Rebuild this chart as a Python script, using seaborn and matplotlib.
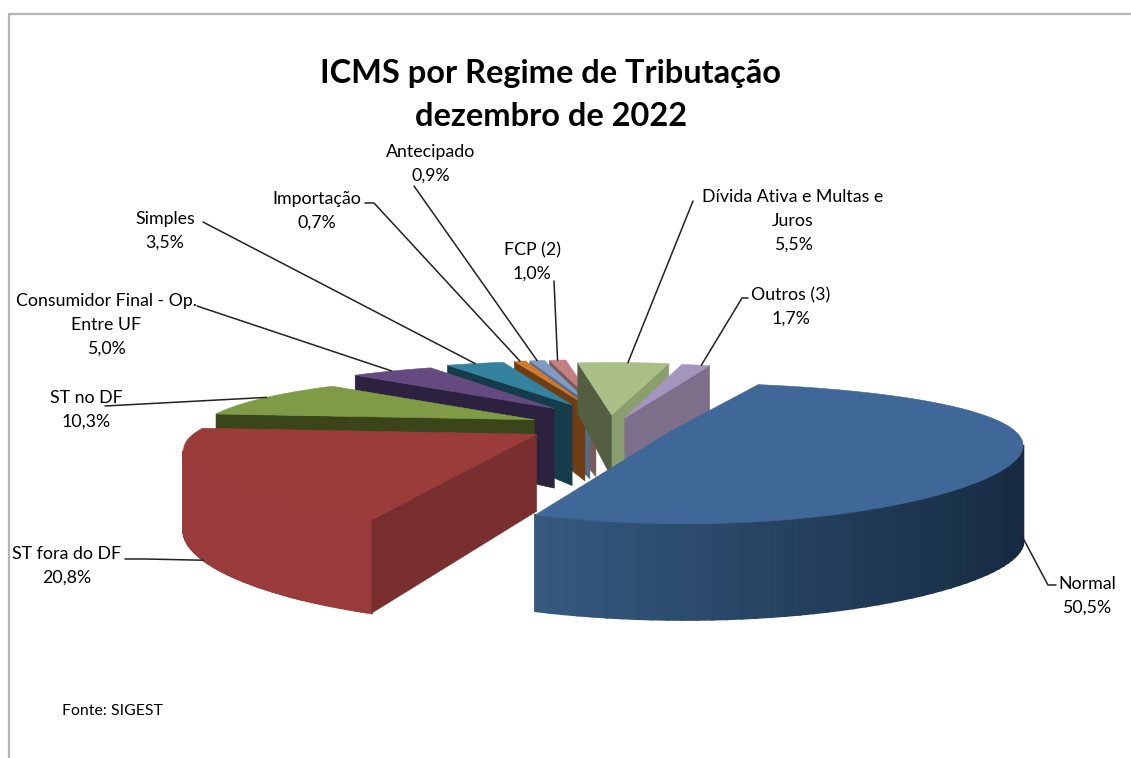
import numpy as np
import matplotlib
matplotlib.use('Agg')
import matplotlib.pyplot as plt
import seaborn as sns
from matplotlib.patches import Polygon

categories = ['Normal', 'ST fora do DF', 'ST no DF', 'Consumidor Final - Op.\nEntre UF', 'Simples',
              'Importação', 'Antecipado', 'FCP (2)', 'Dívida Ativa e Multas e\nJuros', 'Outros (3)']
values = [50.5, 20.8, 10.3, 5.0, 3.5, 0.7, 0.9, 1.0, 5.5, 1.7]

# colours: top, wall on the high angle side, wall on the low angle side
top_colors = ['#3f6797', '#9b3c3b', '#7f9b45', '#644a80', '#34829e', '#d07a30', '#7f9bc5', '#c4807e', '#a9bf85', '#a395bd']
wall_hi = ['#35597f', '#7a2f2f', '#3a4519', '#2d2140', '#143c4a', '#6f3d13', '#566a8a', '#7a5a5a', '#545f42', '#6b5f78']
wall_lo = ['#35597f', '#7a2f2f', '#3a4519', '#2d2140', '#143c4a', '#6f3d13', '#566a8a', '#7a5a5a', '#8b9f6e', '#7d6e8a']
arc_from = ['#35597f', '#993b3a', '#3a4519', '#2d2140', '#143c4a', '#6f3d13', '#566a8a', '#7a5a5a', '#545f42', '#7d6e8a']
arc_to = ['#162b42', '#993b3a', '#3a4519', '#2d2140', '#143c4a', '#6f3d13', '#566a8a', '#7a5a5a', '#545f42', '#7d6e8a']

# pie layout per slice
explode = [0.15, 0.24, 0.25, 0.27, 0.30, 0.30, 0.30, 0.30, 0.10, 0.05]
radius = [0.94, 0.93, 0.93, 0.93, 0.93, 0.93, 0.93, 0.93, 0.93, 0.93]
radius_y = [1.03, 1.0, 1.1, 1.18, 1.2, 1.22, 1.22, 1.22, 1.33, 1.35]
nudge_x = [6, -3, 0, -3, -3, -3, -3, -3, -5, 5]
nudge_y = [6, 5, 5, 0, 0, 0, 0, 0, 0, 0]
depth = [96, 75, 72, 83, 85, 81, 79, 77, 64, 62]
depth_pow = [0, 1, 1, 1, 1, 1, 1, 1, 1, 1]
draw_order = [7, 6, 5, 4, 3, 2, 8, 9, 1, 0]

CX, CY, RX, RY = 615, 421, 360, 63
PX, PY = 0.2, 0.33
START = 71

# label center, leader start (with elbow), position on arc, on lower edge
label_pos = [(1087, 584), (67, 554), (86, 398), (106, 301), (165, 219),
             (317, 199), (431, 152), (532, 250), (793, 197), (791, 295)]
leaders = [[(1056, 585), (1048, 585)], [(125, 559), (145, 559)], [(105, 406)], [(197, 306)], [(203, 222)],
           [(365, 203), (374, 203)], [(414, 186)], [(554, 281)], [(693, 201)], [(748, 298), (742, 298)]]
leader_frac = [0.56, 0.5, 0.48, 0.5, 0.5, 0.5, 0.5, 0.5, 0.45, 0.3]
leader_low = [True, True, False, False, False, False, False, False, False, False]


def project(i, ang, r, mid):
    # disc point to pixels, nearer points get bigger
    X = explode[i] * np.cos(mid) + r * radius[i] * np.cos(ang)
    Y = -explode[i] * np.sin(mid) - r * radius[i] * radius_y[i] * np.sin(ang)
    sx = 1 / (1 - PX * Y)
    sy = 1 / (1 - PY * Y)
    return np.array([CX + nudge_x[i] + RX * X * sx, CY + nudge_y[i] + RY * Y * sy]), depth[i] * sx ** depth_pow[i]


def area(p):
    p = np.array(p)
    return 0.5 * np.sum(p[:, 0] * np.roll(p[:, 1], -1) - np.roll(p[:, 0], -1) * p[:, 1])


def blend(c1, c2, t):
    a, b = np.array(matplotlib.colors.to_rgb(c1)), np.array(matplotlib.colors.to_rgb(c2))
    return tuple(a + (b - a) * t)


def poly(ax, pts, color, lw=0.4):
    ax.add_patch(Polygon(pts, closed=True, facecolor=color, edgecolor=color, lw=lw))


sns.set_theme(style='white')
plt.rcParams['font.family'] = ['Lato', 'DejaVu Sans']

fig = plt.figure(figsize=(11.31, 7.58), dpi=100, facecolor='white')
ax = fig.add_axes([0, 0, 1, 1])
ax.set_xlim(0, 1131)
ax.set_ylim(758, 0)
ax.axis('off')

# chart frame
ax.plot([9, 9, 1131], [758, 14, 14], color='#b5b5b5', lw=1.6)

edges = START - np.concatenate([[0], np.cumsum(values)]) * 3.6
hi = np.radians(edges[:-1])
lo = np.radians(edges[1:])
mids = (hi + lo) / 2

for i in draw_order:
    angs = np.linspace(lo[i], hi[i], 90)
    arc = [project(i, a, 1, mids[i]) for a in angs]
    apex, apex_d = project(i, mids[i], 0, mids[i])
    top = [apex] + [p for p, d in arc]
    sign = area(top)
    xs = np.array([p[0] for p, d in arc])
    # arc wall, thick edges hide the seams between the strips
    for k in range(len(arc) - 1):
        (p, d), (q, e) = arc[k], arc[k + 1]
        quad = [p, q, q + [0, e], p + [0, d]]
        if area(quad) * sign < 0:
            t = (p[0] - xs.min()) / max(xs.max() - xs.min(), 1)
            poly(ax, quad, blend(arc_from[i], arc_to[i], t), lw=1.6)
    # radial walls
    a_p, a_d = arc[0]
    quad = [apex, a_p, a_p + [0, a_d], apex + [0, apex_d]]
    if area(quad) * sign < 0:
        poly(ax, quad, wall_lo[i])
    b_p, b_d = arc[-1]
    quad = [b_p, apex, apex + [0, apex_d], b_p + [0, b_d]]
    if area(quad) * sign < 0:
        poly(ax, quad, wall_hi[i])
    poly(ax, top, top_colors[i])

# labels and leader lines
for i, name in enumerate(categories):
    x, y = label_pos[i]
    lines = name.split('\n') + [f'{values[i]:.1f}%'.replace('.', ',')]
    for n, line in enumerate(lines):
        ax.text(x, y + n * 23.7, line, ha='center', va='center', fontsize=12.8, color='black')
    ang = lo[i] + (hi[i] - lo[i]) * leader_frac[i]
    end, d = project(i, ang, 1, mids[i])
    if leader_low[i]:
        end = end + [0, d]
    pts = np.array(leaders[i] + [tuple(end)])
    ax.plot(pts[:, 0], pts[:, 1], color='#222222', lw=1.1, solid_capstyle='round', zorder=1 if not leader_low[i] else 5)

ax.text(551, 74, 'ICMS por Regime de Tributação', ha='center', va='center', fontsize=23.4, fontweight='bold', color='black')
ax.text(551, 117, 'dezembro de 2022', ha='center', va='center', fontsize=23.4, fontweight='bold', color='black')
ax.text(62, 711, 'Fonte: SIGEST', ha='left', va='center', fontsize=11.4, color='black')

fig.savefig('out.png', dpi=100)
